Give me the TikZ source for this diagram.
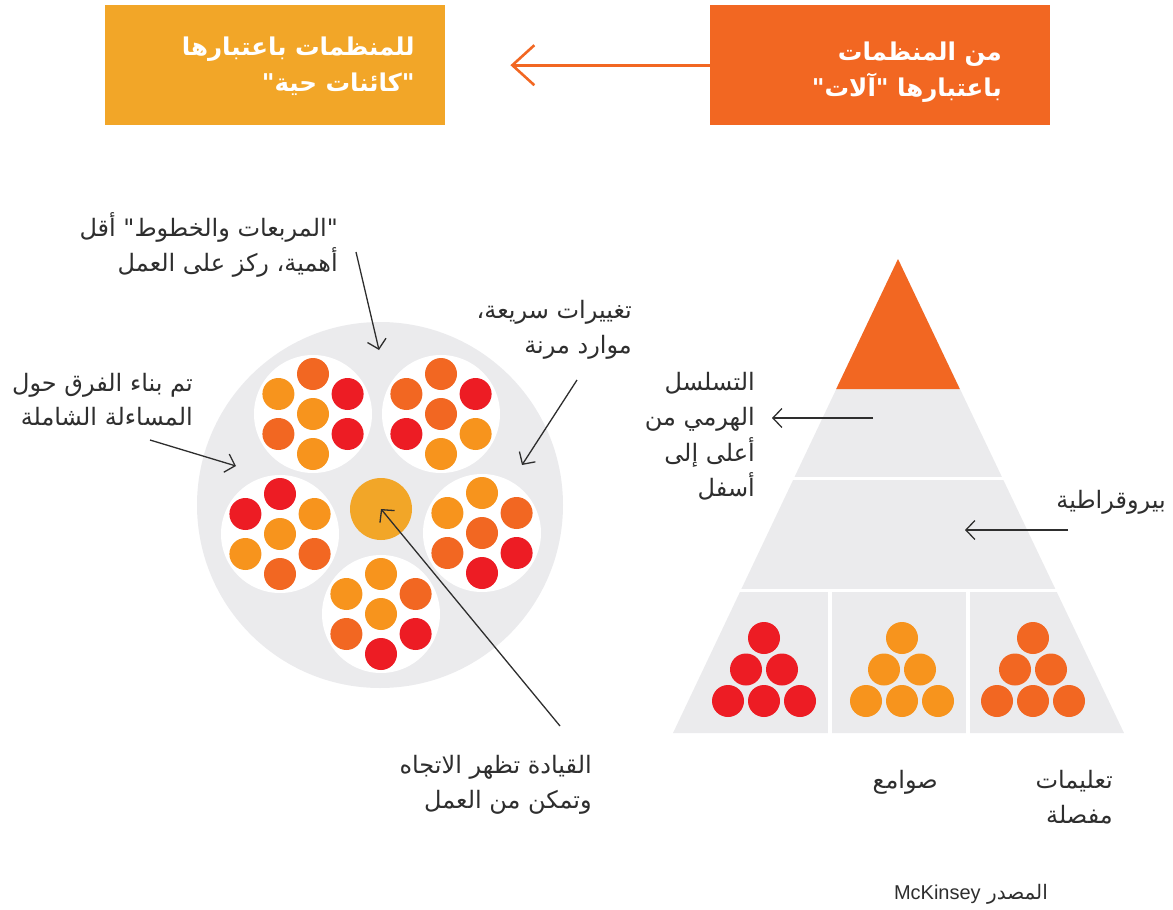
\documentclass[tikz,border=0pt]{standalone}
\usepackage{fontspec}
\setmainfont{DejaVu Sans}
\newfontfamily\arabicfont[Script=Arabic]{DejaVu Sans}
\newfontfamily\latinfont{Liberation Sans}
\TeXXeTstate=1
\usetikzlibrary{arrows.meta,calc}
\definecolor{pgrey}{HTML}{EBEBED}
\definecolor{cred}{HTML}{ED1C24}
\definecolor{cdorange}{HTML}{F26722}
\definecolor{corange}{HTML}{F7941D}
\definecolor{camber}{HTML}{F2A628}
\definecolor{txt}{HTML}{2E2E2E}
\newcommand{\RL}[1]{\beginR #1\endR}
% one team: white disc holding a ring of six dots around a centre dot
% args: cx, cy, top, upper-left, upper-right, centre, lower-left, lower-right, bottom
\newcommand{\team}[9]{%
  \fill[white] (#1,#2) circle (59);
  \fill[#3] ($(#1,#2)+(0,-40)$) circle (16);
  \fill[#4] ($(#1,#2)+(-34.6,-20)$) circle (16);
  \fill[#5] ($(#1,#2)+(34.6,-20)$) circle (16);
  \fill[#6] (#1,#2) circle (16);
  \fill[#7] ($(#1,#2)+(-34.6,20)$) circle (16);
  \fill[#8] ($(#1,#2)+(34.6,20)$) circle (16);
  \fill[#9] ($(#1,#2)+(0,40)$) circle (16);
}
% a stack of six dots (1-2-3) inside a bottom cell of the pyramid
\newcommand{\stack}[3]{%
  \fill[#3] (#1,#2) circle (16);
  \fill[#3] ($(#1,#2)+(-18,31.5)$) circle (16);
  \fill[#3] ($(#1,#2)+(18,31.5)$) circle (16);
  \fill[#3] ($(#1,#2)+(-36,63)$) circle (16);
  \fill[#3] ($(#1,#2)+(0,63)$) circle (16);
  \fill[#3] ($(#1,#2)+(36,63)$) circle (16);
}
\tikzset{
  label/.style={font=\arabicfont\fontsize{24}{35.5}\selectfont, text=txt, align=right, inner sep=0pt},
  headtext/.style={font=\arabicfont\bfseries\fontsize{24.5}{35.5}\selectfont, text=white, align=right, inner sep=0pt},
  headbox/.style={minimum width=340, minimum height=120, inner sep=0pt, draw=none},
  pointer/.style={draw=txt, line width=1.3pt, -{Straight Barb[length=9pt,width=19pt,line width=1.3pt]}},
}
\begin{document}
\begin{tikzpicture}[x=1pt, y=-1pt]
\useasboundingbox (0,0) rectangle (1173,910);

% ---- header: machines -> living organisms
\node[headbox, fill=camber, anchor=north west] (living) at (105,5) {};
\node[headbox, fill=cdorange, anchor=north west] (machine) at (710,5) {};
\node[headtext, anchor=north east] (livingtxt) at (415,37)
  {\RL{للمنظمات باعتبارها}\\\RL{"كائنات حية"}};
\node[headtext, anchor=north east] (machinetxt) at (1002,42)
  {\RL{من المنظمات}\\\RL{باعتبارها "آلات"}};
\draw[draw=cdorange, line width=2.6pt, -{Straight Barb[length=22pt,width=40pt,line width=2.6pt]}, shorten >=65pt]
  (machine.west) -- (living.east);

% ---- organism: teams around a leadership core
\fill[pgrey] (380,505) circle (183);
\team{313}{414}{cdorange}{corange}{cred}{corange}{cdorange}{cred}{corange}
\team{441}{414}{cdorange}{cdorange}{cred}{cdorange}{cred}{corange}{corange}
\team{280}{534}{cred}{cred}{corange}{corange}{corange}{cdorange}{cdorange}
\team{482}{533}{corange}{corange}{cdorange}{cdorange}{cdorange}{cred}{cred}
\team{381}{614}{corange}{corange}{cdorange}{corange}{cdorange}{cred}{cred}
\node[circle, fill=camber, minimum size=62, inner sep=0pt] (lead) at (381,509) {};

% labels around the organism
\node[label, anchor=north east] (boxes) at (338,212)
  {\RL{"المربعات والخطوط" أقل}\\\RL{أهمية، ركز على العمل}};
\node[label, anchor=north east] (rapid) at (632,300)
  {\RL{تغييرات سريعة،}\\\RL{موارد مرنة}};
\node[label, anchor=north east, font=\arabicfont\fontsize{24}{34}\selectfont] (teams) at (193,373)
  {\RL{تم بناء الفرق حول}\\\RL{المساءلة الشاملة}};
\node[label, anchor=north east] (leadtxt) at (592,755)
  {\RL{القيادة تظهر الاتجاه}\\\RL{وتمكن من العمل}};

\coordinate (b0) at (356,252); \coordinate (b1) at (379,350);
\coordinate (r0) at (577,380); \coordinate (r1) at (522,465);
\coordinate (t0) at (150,440); \coordinate (t1) at (236,466);
\coordinate (l0) at (560,726);
\draw[pointer] (b0) -- (b1);
\draw[pointer] (r0) -- (r1);
\draw[pointer] (t0) -- (t1);
\draw[pointer] (l0) -- (lead.center);

% ---- machine: hierarchy pyramid
\fill[pgrey] (898,259) -- (1124,733) -- (673,733) -- cycle;
\fill[cdorange] (898,259) -- (959.8,389) -- (836.2,389) -- cycle;
\draw[white, line width=3.5pt] (660,478.5) -- (1140,478.5);
\draw[white, line width=3.5pt] (660,590.5) -- (1140,590.5);
\draw[white, line width=3.5pt] (830,590) -- (830,740);
\draw[white, line width=3.5pt] (968,590) -- (968,740);
\stack{764}{638}{cred}
\stack{902}{638}{corange}
\stack{1033}{638}{cdorange}

\node[label, anchor=north east] (hier) at (755,372)
  {\RL{التسلسل}\\\RL{الهرمي من}\\\RL{أعلى إلى}\\\RL{أسفل}};
\node[label, anchor=north east] (bureau) at (1166,490) {\RL{بيروقراطية}};
\node[label, anchor=north east] (detail) at (1113,770)
  {\RL{تعليمات}\\\RL{مفصلة}};
\node[label, anchor=north east] (silos) at (938,770) {\RL{صوامع}};
\node[label, anchor=north east, font=\arabicfont\fontsize{20}{24}\selectfont] (source) at (1048,884)
  {\RL{المصدر \beginL{\latinfont McKinsey}\endL}};

\coordinate (h0) at (873,418); \coordinate (h1) at (772,418);
\coordinate (q0) at (1068,530); \coordinate (q1) at (965,530);
\draw[pointer] (h0) -- (h1);
\draw[pointer] (q0) -- (q1);
\end{tikzpicture}
\end{document}
